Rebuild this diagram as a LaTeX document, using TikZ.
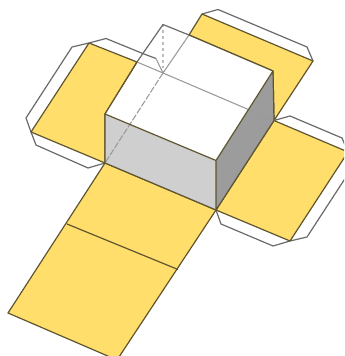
\documentclass[tikz,border=0pt]{standalone}
\definecolor{flapyellow}{HTML}{FFDE6B}
\definecolor{edgeolive}{HTML}{5F5530}
\definecolor{tabgray}{HTML}{6A6A6A}
\definecolor{hiddengray}{HTML}{9A9A9A}
\definecolor{frontgray}{HTML}{CFCFCF}
\definecolor{sidegray}{HTML}{9C9C9C}
\tikzset{
  px/.style={x=0.75pt,y=-0.75pt},
  flap/.style={fill=flapyellow,draw=edgeolive,line width=0.9pt,line join=round},
  tabline/.style={draw=tabgray,line width=0.9pt,line join=round},
  foldline/.style={draw=hiddengray,line width=0.8pt,line join=round},
  hidden/.style={draw=hiddengray,line width=0.8pt,dash pattern=on 5pt off 1.2pt},
  hiddensmall/.style={draw=hiddengray!65,line width=0.9pt,dash pattern=on 2.2pt off 2.2pt},
  cubeedge/.style={draw=edgeolive,line width=0.9pt,line join=round}
}
\begin{document}
\begin{tikzpicture}[px]
\useasboundingbox (0,0) rectangle (344,356);
\clip (0,0) rectangle (344,356);
% tabs
\draw[tabline] (89,43) -- (72,47) -- (26,118) -- (31,132) -- (36,145) -- (88,168) -- (105,163);
\draw[tabline] (202,14) -- (218,9.5) -- (307,47) -- (313,61);
\draw[tabline] (274,120.5) -- (290,116) -- (342,138) -- (348,152);
\draw[tabline] (216,210) -- (221,224) -- (273,246) -- (290,241) -- (307,237) -- (348,174);
% flaps
\draw[flap] (89,43) -- (137,62) -- (105,114) -- (105,163) -- (31,132) -- cycle;
\draw[flap] (202,14) -- (313,61) -- (274,120.5) -- (273,71) -- (189,35) -- cycle;
\draw[flap] (274,120.5) -- (348,152) -- (290,241) -- (216,210) -- cycle;
\draw[flap] (105,163) -- (216,210) -- (117,360) -- (8,313) -- cycle;
\draw[flap] (67,224) -- (178,269.5);
% cube
\coordinate (ta) at (105,114);
\coordinate (tb) at (216,160.5);
\coordinate (tc) at (273,71);
\coordinate (td) at (163,24.5);
\coordinate (ba) at (105,163);
\coordinate (bb) at (216,210);
\coordinate (bc) at (274,120.5);
\coordinate (bd) at (163,73);
\coordinate (fl) at (137,62);
\coordinate (fb) at (189,35);
\fill[frontgray] (ta) -- (tb) -- (bb) -- (ba) -- cycle;
\fill[sidegray] (tb) -- (tc) -- (bc) -- (bb) -- cycle;
\fill[white] (ta) -- (tb) -- (tc) -- (td) -- cycle;
\draw[hiddensmall] (td) -- (bd);
\draw[foldline] (fb) -- (bd);
\draw[hidden] (bd) -- (ba);
\draw[foldline] (fl) -- (bd) -- (bc);
% tab seen through the top face
\draw[tabline] (89,43) -- (106,38.5) -- (144,54) -- (156,58.5);
\draw[foldline] (156,58.5) -- (bd);
\draw[cubeedge] (ba) -- (ta) -- (tb) -- (tc) -- (bc) -- (bb) -- (tb);
\draw[cubeedge] (ba) -- (bb);
\draw[tabline] (fl) -- (td) -- (fb);
\draw[cubeedge] (fb) -- (tc);
\draw[cubeedge] (fl) -- (ta);
\end{tikzpicture}
\end{document}
